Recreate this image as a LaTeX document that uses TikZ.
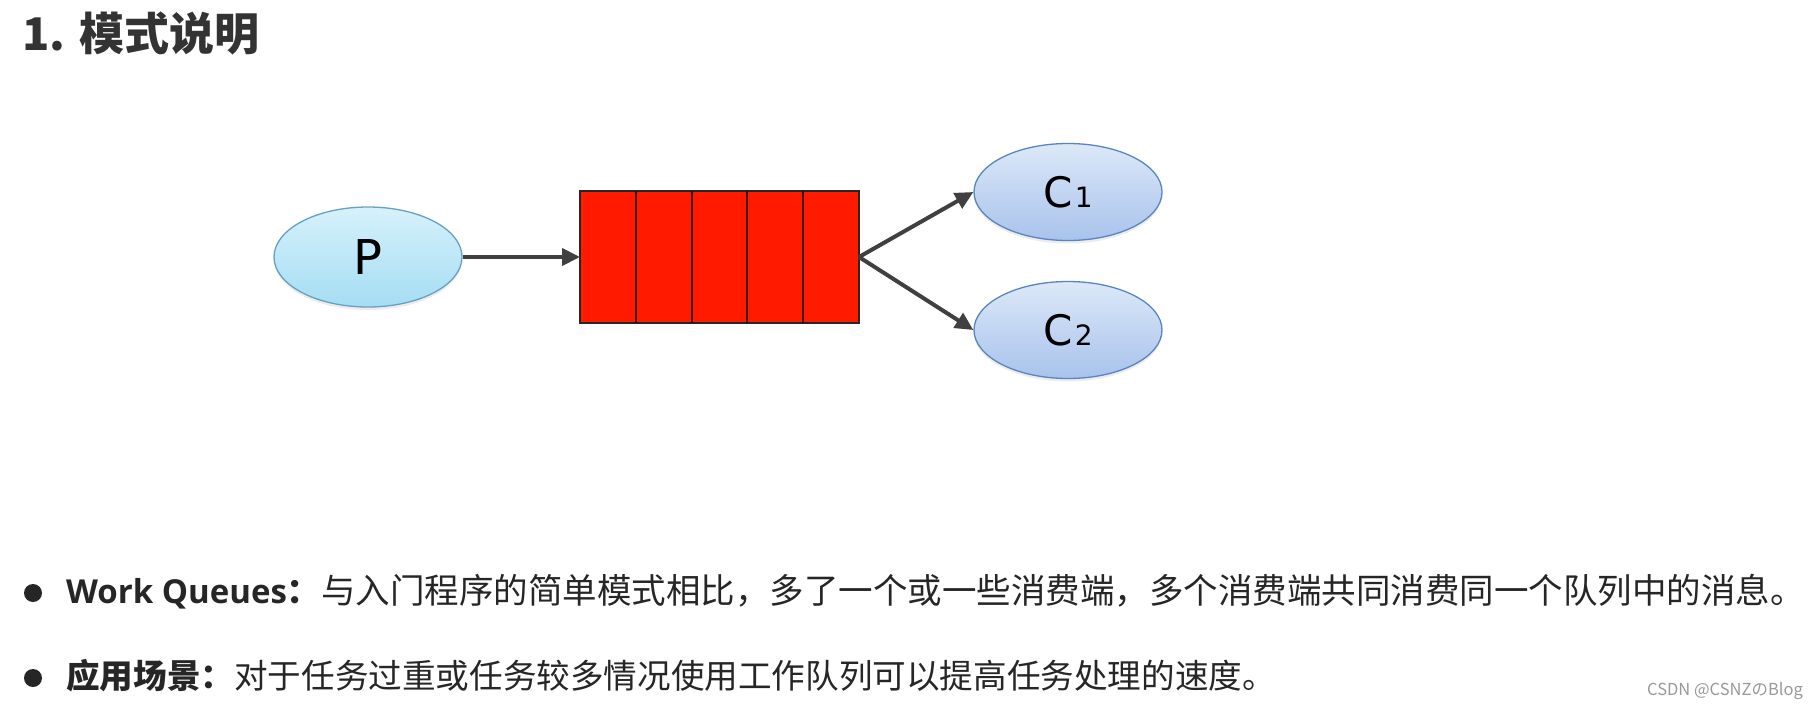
\documentclass[tikz,border=0pt]{standalone}
\usepackage{fontspec}
\setmainfont{Open Sans}
\newfontfamily\cjk{Noto Sans CJK SC}
\newfontfamily\labelfont{DejaVu Sans}
\usetikzlibrary{positioning,arrows.meta,shapes.geometric,shadows,calc}
\definecolor{textgray}{RGB}{38,38,38}
\definecolor{titlegray}{RGB}{51,51,51}
\definecolor{queuered}{RGB}{255,26,0}
\definecolor{cellline}{RGB}{60,10,0}
\definecolor{arrowgray}{RGB}{64,64,64}
\definecolor{prodtop}{RGB}{214,241,251}
\definecolor{prodbot}{RGB}{164,221,244}
\definecolor{prodline}{RGB}{104,160,196}
\definecolor{constop}{RGB}{220,232,248}
\definecolor{consbot}{RGB}{168,195,236}
\definecolor{consline}{RGB}{90,132,192}

\begin{document}
\begin{tikzpicture}[x=1pt,y=-1pt,
  producer/.style={ellipse,draw=prodline,line width=1.3pt,top color=prodtop,bottom color=prodbot,
    minimum width=188pt,minimum height=100pt,inner sep=0pt,
    drop shadow={shadow xshift=0pt,shadow yshift=-3pt,opacity=0.15}},
  consumer/.style={producer,draw=consline,top color=constop,bottom color=consbot,minimum height=97pt},
  queuebox/.style={rectangle,draw=black!85,line width=1.5pt,fill=queuered,
    minimum width=279pt,minimum height=132pt,inner sep=0pt,outer sep=0pt},
  flow/.style={arrowgray,line width=4pt,-{Triangle[length=18pt,width=17pt]}},
  bodytext/.style={anchor=base west,inner sep=0pt,text=textgray,font={\cjk\fontsize{34.5}{40}\selectfont}},
  bullet/.style={circle,fill=textgray,minimum size=18pt,inner sep=0pt}]
\fill[white] (0,0) rectangle (1818,705);
\useasboundingbox (0,0) rectangle (1818,705);
% Heading
\node[anchor=base west,inner sep=0pt,text=titlegray,font={\cjk\bfseries\fontsize{45}{48}\selectfont}] (title) at (22,50) {1. 模式说明};
% Producer and queue
\node[producer] (P) at (368,257) {\labelfont\fontsize{48}{50}\selectfont P};
\node[queuebox] (Q) at (719.5,257) {};
\foreach \i in {1,2,3,4} {
  \draw[cellline,line width=2pt] ($(Q.north west)!\i/5!(Q.north east)$) -- ($(Q.south west)!\i/5!(Q.south east)$);
}
\draw[flow] (P.east) -- (Q.west);
% Consumers
\foreach \n/\y in {1/192,2/330} {
  \node[consumer] (C\n) at (1068,\y) {\labelfont\fontsize{42}{44}\selectfont C\kern2pt{\fontsize{28}{28}\selectfont\n}};
  \draw[flow] (Q.east) -- (C\n.west);
}
% Notes
\node[bullet] (b1) at (33,593) {};
\node[bodytext] (line1) at (66,603) {{\rmfamily\bfseries\fontsize{33}{36}\selectfont Work Queues}{\bfseries ：}与入门程序的简单模式相比，多了一个或一些消费端，多个消费端共同消费同一个队列中的消息。};
\node[bullet] (b2) at (33,678) {};
\node[bodytext,font={\cjk\fontsize{33.6}{40}\selectfont}] (line2) at (66,688) {{\bfseries 应用场景：}对于任务过重或任务较多情况使用工作队列可以提高任务处理的速度。};
\node[anchor=base east,inner sep=0pt,text=black!40,font={\cjk\fontsize{16.5}{20}\selectfont}] (mark) at (1803,695) {CSDN @CSNZのBlog};
\end{tikzpicture}
\end{document}
